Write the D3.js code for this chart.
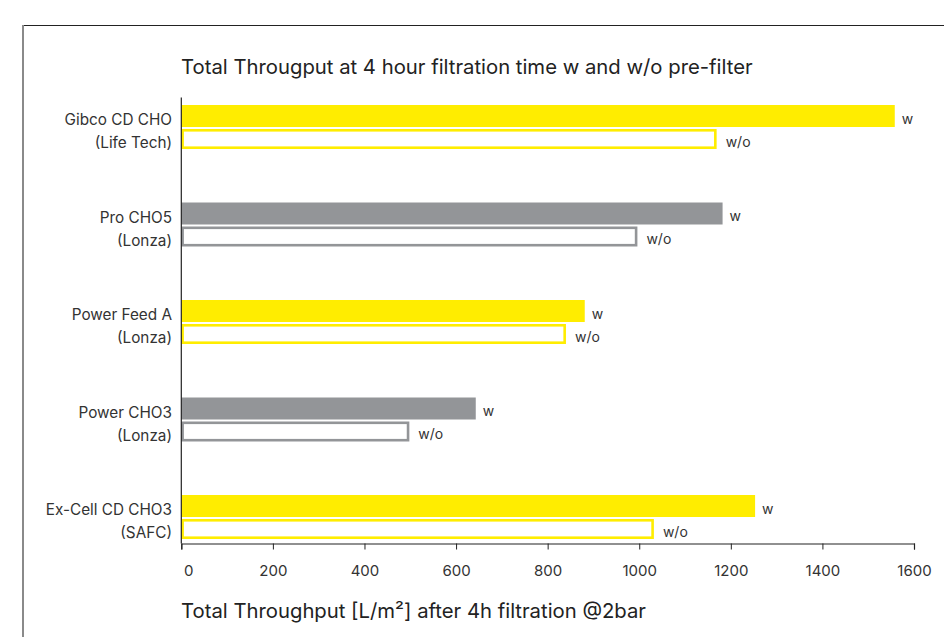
<!DOCTYPE html>
<html>
<head>
<meta charset="utf-8">
<script src="https://cdn.jsdelivr.net/npm/d3@7"></script>
<style>
  body { margin: 0; background: #fff; }
  svg text { font-family: Inter, "Noto Sans", sans-serif; fill: #333; }
</style>
</head>
<body>
<div id="chart"></div>
<script>
// media names (two lines each), values in L/m2
const mediaLine1 = ["Gibco CD CHO", "Pro CHO5", "Power Feed A", "Power CHO3", "Ex-Cell CD CHO3"];
const mediaLine2 = ["(Life Tech)", "(Lonza)", "(Lonza)", "(Lonza)", "(SAFC)"];
const withPrefilter = [1558, 1182, 881, 643, 1253];
const withoutPrefilter = [1169, 996, 840, 498, 1032];
const barColors = ["#ffed00", "#939598", "#ffed00", "#939598", "#ffed00"];
const xTicks = [0, 200, 400, 600, 800, 1000, 1200, 1400, 1600];

const width = 944, height = 637;

let svg = d3.select("#chart").append("svg")
    .attr("width", width)
    .attr("height", height);

// frame
svg.append("line")
    .attr("x1", 23).attr("x2", width).attr("y1", 25.5).attr("y2", 25.5)
    .attr("stroke", "#222").attr("stroke-width", 1.2);
svg.append("line")
    .attr("x1", 23).attr("x2", 23).attr("y1", 25).attr("y2", height)
    .attr("stroke", "#8a8a8a").attr("stroke-width", 2);

let xScale = d3.scaleLinear()
    .domain([0, 1600])
    .range([181.3, 914]);

let yScale = d3.scaleBand()
    .domain(d3.range(mediaLine1.length))
    .range([78.25, 565.75]);

let rows = mediaLine1.map((d, i) => ({
    i: i,
    l1: d,
    l2: mediaLine2[i],
    w: withPrefilter[i],
    wo: withoutPrefilter[i],
    color: barColors[i]
}));

let mid = d => yScale(d.i) + yScale.bandwidth() / 2;

// w bars
svg.selectAll(".wbar")
    .data(rows)
    .enter().append("rect")
    .attr("class", "wbar")
    .attr("x", xScale(0))
    .attr("y", d => mid(d) - 22)
    .attr("width", d => xScale(d.w) - xScale(0))
    .attr("height", 22)
    .attr("fill", d => d.color);

// w/o bars (outlined)
let sw = 2.6;
svg.selectAll(".wobar")
    .data(rows)
    .enter().append("rect")
    .attr("class", "wobar")
    .attr("x", xScale(0) + sw / 2)
    .attr("y", d => mid(d) + 2 + sw / 2)
    .attr("width", d => xScale(d.wo) - xScale(0) - sw)
    .attr("height", 20 - sw)
    .attr("fill", "#fff")
    .attr("stroke", d => d.color)
    .attr("stroke-width", sw);

// value tags
svg.selectAll(".wlab")
    .data(rows)
    .enter().append("text")
    .attr("class", "wlab")
    .attr("x", d => xScale(d.w) + 7)
    .attr("y", d => mid(d) - 8)
    .attr("dy", "0.35em")
    .attr("font-size", 14)
    .text("w");

svg.selectAll(".wolab")
    .data(rows)
    .enter().append("text")
    .attr("class", "wolab")
    .attr("x", d => xScale(d.wo) + 9)
    .attr("y", d => mid(d) + 15)
    .attr("dy", "0.35em")
    .attr("font-size", 14)
    .text("w/o");

// category labels
let cat = svg.selectAll(".cat")
    .data(rows)
    .enter().append("text")
    .attr("class", "cat")
    .attr("text-anchor", "end")
    .attr("font-size", 15.3);
cat.append("tspan")
    .attr("x", 172)
    .attr("y", d => mid(d) - 2)
    .text(d => d.l1);
cat.append("tspan")
    .attr("x", 172)
    .attr("y", d => mid(d) + 21)
    .text(d => d.l2);

// y axis line
svg.append("line")
    .attr("x1", xScale(0)).attr("x2", xScale(0))
    .attr("y1", 97.5).attr("y2", 543.5)
    .attr("stroke", "#222").attr("stroke-width", 1.2);

// x axis
let xAxis = svg.append("g")
    .attr("class", "xaxis")
    .attr("transform", "translate(0,543.5)")
    .call(d3.axisBottom(xScale).tickValues(xTicks).tickSize(6).tickPadding(16).tickFormat(d3.format("d")));
xAxis.select(".domain").attr("stroke", "#222").attr("stroke-width", 1.2);
xAxis.selectAll(".tick line").attr("stroke", "#222");
xAxis.selectAll(".tick text")
    .attr("font-size", 15)
    .attr("font-family", "Inter, sans-serif")
    .attr("fill", "#333")
    .attr("dx", d => d === 0 ? 7 : 0);

// titles
svg.append("text")
    .attr("x", 181)
    .attr("y", 74)
    .attr("font-size", 20.3)
    .style("fill", "#222")
    .text("Total Througput at 4 hour filtration time w and w/o pre-filter");

svg.append("text")
    .attr("x", 181)
    .attr("y", 618)
    .attr("font-size", 20.3)
    .style("fill", "#222")
    .text("Total Throughput [L/m²] after 4h filtration @2bar");
</script>
</body>
</html>
